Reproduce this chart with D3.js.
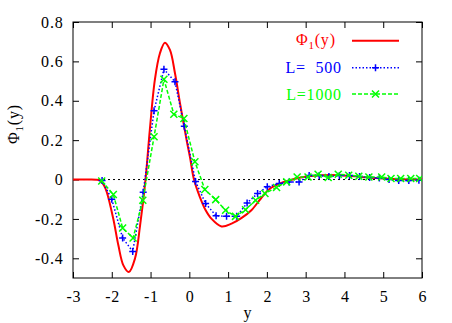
<!DOCTYPE html>
<html><head><meta charset="utf-8">
<script src="https://cdn.jsdelivr.net/npm/d3@7"></script>
<style>
body{margin:0;background:#fff;}
</style></head>
<body><svg id="c" width="452" height="323"></svg>
<script>
// Red curve Φ1(y)
const phiX = [-3,-2.6,-2.4,-2.3,-2.2,-2.13,-1.96,-1.83,-1.70,-1.56,-1.40,-1.27,-1.13,-1.02,-0.89,-0.76,-0.63,-0.50,-0.37,-0.24,-0.07,0.02,0.12,0.27,0.40,0.575,0.83,1.09,1.35,1.6,1.85,2.08,2.34,2.59,2.94,3.4,3.9,4.5,5.0,5.5,6.0];
const phiY = [0,0,-0.001,-0.006,-0.03,-0.063,-0.20,-0.334,-0.436,-0.47,-0.40,-0.233,0.0,0.25,0.505,0.64,0.695,0.658,0.54,0.387,0.20,0.11,0.0,-0.088,-0.148,-0.20,-0.238,-0.224,-0.195,-0.156,-0.095,-0.046,-0.02,-0.004,0.013,0.022,0.022,0.012,0.005,0.001,0.0];
// L = 500
const l500X = [-2.25,-2.0,-1.72,-1.46,-1.19,-0.91,-0.655,-0.37,-0.13,0.16,0.42,0.69,0.96,1.22,1.49,1.76,2.01,2.32,2.57,2.83,3.09,3.35,3.6,3.87,4.13,4.39,4.65,4.9,5.15,5.4,5.66,5.92];
const l500Y = [-0.005,-0.10,-0.297,-0.365,-0.065,0.349,0.56,0.497,0.271,-0.01,-0.122,-0.184,-0.187,-0.187,-0.119,-0.071,-0.037,-0.02,-0.012,-0.012,0.02,0.02,0.015,0.02,0.02,0.015,0.01,0.008,0.0,-0.005,-0.005,-0.003];
// L = 1000
const l1000X = [-2.26,-1.96,-1.72,-1.45,-1.20,-0.91,-0.655,-0.40,-0.14,0.144,0.40,0.68,0.935,1.19,1.45,1.71,1.95,2.25,2.51,2.78,3.06,3.32,3.58,3.84,4.11,4.37,4.63,4.96,5.2,5.45,5.71,5.94];
const l1000Y = [-0.007,-0.076,-0.246,-0.297,-0.105,0.217,0.509,0.332,0.31,0.09,-0.051,-0.102,-0.156,-0.187,-0.153,-0.105,-0.071,-0.04,-0.012,0.013,0.013,0.027,0.01,0.027,0.022,0.017,0.013,0.013,0.005,0.005,0.005,0.005];
const xTicks = [-3,-2,-1,0,1,2,3,4,5,6];
const yTicks = [-0.4,-0.2,0,0.2,0.4,0.6,0.8];
const legendLabels = ["L=\u00a0\u00a0500","L=1000"];

const FONT = "'Liberation Serif','Times New Roman',Tinos,serif";
const FS = 16, LS = 0.8;
const svg = d3.select("#c");
const L=73, R=422, T=22, B=278;
const x = d3.scaleLinear().domain([-3,6]).range([L,R]);
const y = d3.scaleLinear().domain([-0.5,0.8]).range([B,T]);
const styleText = s => s.style("font-family",FONT).attr("font-size",FS).style("letter-spacing",LS+"px");

// zero line
svg.append("line").attr("x1",x(-3)).attr("x2",x(6)).attr("y1",y(0)).attr("y2",y(0))
  .attr("stroke","#000").attr("stroke-width",1).attr("stroke-dasharray","2,3");

// axes (ticks inward, all four sides)
const tl = 6;
const fmtX = d => String(d);
const fmtY = d => d===0 ? "0" : d.toFixed(1);
const gB = svg.append("g").attr("transform",`translate(0,${B})`)
  .call(d3.axisBottom(x).tickValues(xTicks).tickSize(-tl).tickFormat(fmtX));
const gT = svg.append("g").attr("transform",`translate(0,${T})`)
  .call(d3.axisTop(x).tickValues(xTicks).tickSize(-tl).tickFormat(""));
const gL = svg.append("g").attr("transform",`translate(${L},0)`)
  .call(d3.axisLeft(y).tickValues(yTicks).tickSize(-tl).tickPadding(9.5).tickFormat(fmtY));
const gR = svg.append("g").attr("transform",`translate(${R},0)`)
  .call(d3.axisRight(y).tickValues(yTicks).tickSize(-tl).tickFormat(""));
[gB,gT,gL,gR].forEach(g=>{
  g.attr("font-family",null).attr("font-size",null);
  g.select(".domain").remove();
  g.selectAll("line").attr("stroke","#000");
  g.selectAll("text").call(styleText).attr("fill","#000");
});
gB.selectAll("text").attr("y",23.7).attr("dy",null).attr("dx",LS/2);
gL.selectAll("text").attr("dy","0.32em");
svg.append("rect").attr("x",L).attr("y",T).attr("width",R-L).attr("height",B-T)
  .attr("fill","none").attr("stroke","#000").attr("stroke-width",1);

// axis labels
svg.append("text").attr("x",(L+R)/2+LS/2).attr("y",318).attr("text-anchor","middle")
  .call(styleText).text("y");
const yl = svg.append("text").attr("transform","translate(19,124) rotate(-90)")
  .attr("text-anchor","middle").call(styleText);
yl.append("tspan").text("Φ");
yl.append("tspan").attr("dy",4).attr("font-size",11).text("1");
yl.append("tspan").attr("dy",-4).text("(y)");

svg.append("clipPath").attr("id","cp").append("rect")
  .attr("x",L).attr("y",T).attr("width",R-L).attr("height",B-T);
const plot = svg.append("g").attr("clip-path","url(#cp)");

// red curve
const redData = phiX.map((v,i)=>[v,phiY[i]]);
plot.append("path").datum(redData)
  .attr("d",d3.line().x(d=>x(d[0])).y(d=>y(d[1])).curve(d3.curveCatmullRom.alpha(0.5)))
  .attr("fill","none").attr("stroke","#ff0000").attr("stroke-width",2);

const ms = 3.5;
const plusPath = (cx,cy)=>`M${cx-ms},${cy}H${cx+ms}M${cx},${cy-ms}V${cy+ms}`;
const crossPath = (cx,cy)=>`M${cx-ms},${cy-ms}L${cx+ms},${cy+ms}M${cx-ms},${cy+ms}L${cx+ms},${cy-ms}`;

// blue series
const blueData = l500X.map((v,i)=>[v,l500Y[i]]);
plot.append("path").datum(blueData)
  .attr("d",d3.line().x(d=>x(d[0])).y(d=>y(d[1])))
  .attr("fill","none").attr("stroke","#0000ff").attr("stroke-width",1.5).attr("stroke-dasharray","1.5,2");
plot.selectAll(".pb").data(blueData).enter().append("path")
  .attr("d",d=>plusPath(x(d[0]),y(d[1]))).attr("stroke","#0000ff").attr("stroke-width",1.5).attr("fill","none");

// green series
const greenData = l1000X.map((v,i)=>[v,l1000Y[i]]);
plot.append("path").datum(greenData)
  .attr("d",d3.line().x(d=>x(d[0])).y(d=>y(d[1])))
  .attr("fill","none").attr("stroke","#00ff00").attr("stroke-width",1.5).attr("stroke-dasharray","4,2");
plot.selectAll(".pg").data(greenData).enter().append("path")
  .attr("d",d=>crossPath(x(d[0]),y(d[1]))).attr("stroke","#00ff00").attr("stroke-width",1.5).attr("fill","none");

// legend
const lx1=352, lx2=399;
const t1 = svg.append("text").attr("x",335+LS).attr("y",45).attr("text-anchor","end")
  .call(styleText).attr("fill","#ff0000");
t1.append("tspan").text("Φ");
t1.append("tspan").attr("dy",4).attr("font-size",11).text("1");
t1.append("tspan").attr("dy",-4).text("(y)");
svg.append("line").attr("x1",lx1).attr("x2",lx2).attr("y1",40.7).attr("y2",40.7)
  .attr("stroke","#ff0000").attr("stroke-width",2);

svg.append("text").attr("x",341+LS).attr("y",73).attr("text-anchor","end").call(styleText)
  .attr("fill","#0000ff").text(legendLabels[0]);
svg.append("line").attr("x1",lx1).attr("x2",lx2).attr("y1",67.7).attr("y2",67.7)
  .attr("stroke","#0000ff").attr("stroke-width",1.5).attr("stroke-dasharray","1.5,2");
svg.append("path").attr("d",plusPath((lx1+lx2)/2,67.7)).attr("stroke","#0000ff").attr("stroke-width",1.5);

svg.append("text").attr("x",341+LS).attr("y",100).attr("text-anchor","end").call(styleText)
  .attr("fill","#00ff00").text(legendLabels[1]);
svg.append("line").attr("x1",lx1).attr("x2",lx2).attr("y1",94).attr("y2",94)
  .attr("stroke","#00ff00").attr("stroke-width",1.5).attr("stroke-dasharray","4,2");
svg.append("path").attr("d",crossPath((lx1+lx2)/2,94)).attr("stroke","#00ff00").attr("stroke-width",1.5);
</script></body></html>
